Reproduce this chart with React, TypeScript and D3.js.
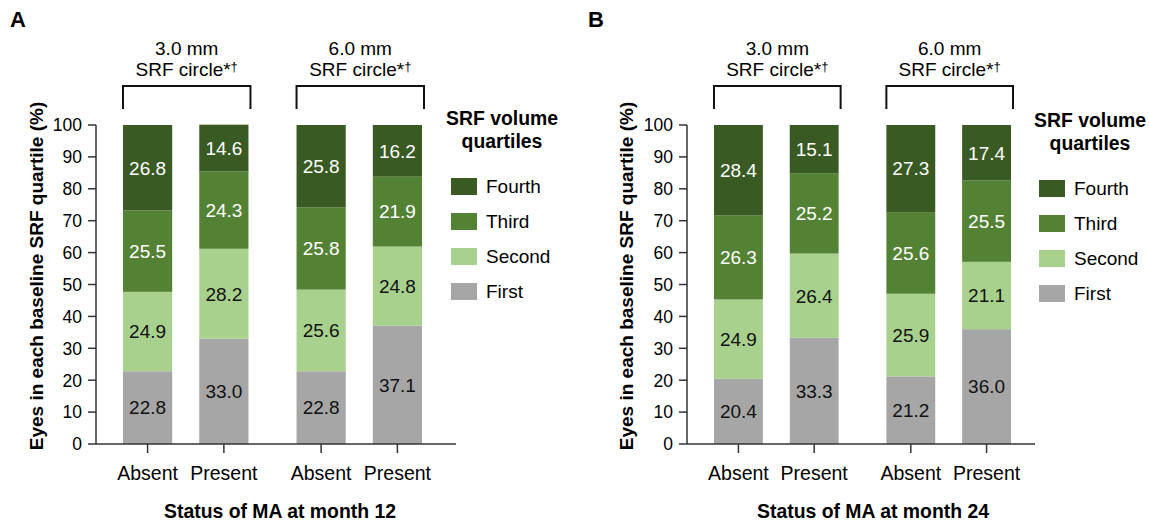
import React from "react";
import * as d3 from "d3";

// categories
const groups = ["3.0 mm", "6.0 mm"];
const statuses = ["Absent", "Present"];
const quartiles = ["First", "Second", "Third", "Fourth"];
const yTicks = [0, 10, 20, 30, 40, 50, 60, 70, 80, 90, 100];

// month 12: bars are 3.0 Absent, 3.0 Present, 6.0 Absent, 6.0 Present
const m12First = [22.8, 33.0, 22.8, 37.1];
const m12Second = [24.9, 28.2, 25.6, 24.8];
const m12Third = [25.5, 24.3, 25.8, 21.9];
const m12Fourth = [26.8, 14.6, 25.8, 16.2];

// month 24
const m24First = [20.4, 33.3, 21.2, 36.0];
const m24Second = [24.9, 26.4, 25.9, 21.1];
const m24Third = [26.3, 25.2, 25.6, 25.5];
const m24Fourth = [28.4, 15.1, 27.3, 17.4];

const colors: Record<string, string> = {
  First: "#a6a6a6",
  Second: "#a9d18e",
  Third: "#548235",
  Fourth: "#3a5a23",
};
const labelColor: Record<string, string> = {
  First: "#111",
  Second: "#111",
  Third: "#fff",
  Fourth: "#fff",
};

const FONT = "'Liberation Sans', Arial, Helvetica, sans-serif";

type PanelProps = {
  letter: string;
  letterX: number;
  axisX: number;
  axisEnd: number;
  barStart: number;
  barEnd: number;
  titleX: number;
  yTitleX: number;
  legendX: number;
  legendTitleX: number;
  legendTop: number;
  month: string;
  series: number[][];
};

const Panel: React.FC<PanelProps> = (p) => {
  const y = d3.scaleLinear().domain([0, 100]).range([444, 125]);
  const outer = d3.scaleBand<string>().domain(groups).range([p.barStart, p.barEnd]).paddingInner(0.277);
  const inner = d3.scaleBand<string>().domain(statuses).range([0, outer.bandwidth()]).paddingInner(0.355);

  const rows = groups.flatMap((g, gi) =>
    statuses.map((s, si) => {
      const i = gi * 2 + si;
      const row: any = { group: g, status: s };
      quartiles.forEach((q, qi) => (row[q] = p.series[qi][i]));
      return row;
    })
  );
  const stacked = d3.stack<any>().keys(quartiles)(rows);
  const bx = (r: any) => (outer(r.group) ?? 0) + (inner(r.status) ?? 0);

  return (
    <g>
      <text x={p.letterX} y={27} fontSize={22} fontWeight="bold">{p.letter}</text>

      {/* bars */}
      {stacked.map((layer) => (
        <g key={layer.key}>
          {layer.map((d, i) => {
            const r = rows[i];
            const x0 = bx(r);
            const top = y(d[1]);
            const h = y(d[0]) - y(d[1]);
            return (
              <g key={i}>
                <rect x={x0} y={top} width={inner.bandwidth()} height={h} fill={colors[layer.key]} />
                <text
                  x={x0 + inner.bandwidth() / 2}
                  y={top + h / 2}
                  dy="0.36em"
                  textAnchor="middle"
                  fontSize={19}
                  fill={labelColor[layer.key]}
                >
                  {(d[1] - d[0]).toFixed(1)}
                </text>
              </g>
            );
          })}
        </g>
      ))}

      {/* y axis */}
      <line x1={p.axisX} x2={p.axisX} y1={y(100)} y2={y(0)} stroke="#333" strokeWidth={1.5} />
      {yTicks.map((t) => (
        <g key={t}>
          <line x1={p.axisX - 8} x2={p.axisX} y1={y(t)} y2={y(t)} stroke="#333" strokeWidth={1.5} />
          <text x={p.axisX - 14} y={y(t)} dy="0.36em" textAnchor="end" fontSize={17.5}>{t}</text>
        </g>
      ))}
      <text
        transform={`translate(${p.yTitleX},276) rotate(-90)`}
        textAnchor="middle"
        fontSize={19}
        fontWeight="bold"
      >
        Eyes in each baseline SRF quartile (%)
      </text>

      {/* x axis */}
      <line x1={p.axisX} x2={p.axisEnd} y1={y(0)} y2={y(0)} stroke="#333" strokeWidth={1.5} />
      {rows.map((r, i) => {
        const cx = bx(r) + inner.bandwidth() / 2;
        return (
          <g key={i}>
            <line x1={cx} x2={cx} y1={y(0)} y2={y(0) + 9} stroke="#333" strokeWidth={1.5} />
            <text x={cx} y={480} textAnchor="middle" fontSize={19.5}>{r.status}</text>
          </g>
        );
      })}
      <text x={p.titleX} y={518} textAnchor="middle" fontSize={19.4} fontWeight="bold">
        Status of MA at month {p.month}
      </text>

      {/* brackets */}
      {groups.map((g) => {
        const x0 = outer(g) ?? 0;
        const x1 = x0 + outer.bandwidth() + 2;
        const cx = (x0 + x1) / 2;
        return (
          <g key={g}>
            <text x={cx} y={55} textAnchor="middle" fontSize={19}>{g}</text>
            <text x={cx} y={76} textAnchor="middle" fontSize={19}>
              SRF circle*<tspan fontSize={13} dy={-5}>†</tspan>
            </text>
            <path d={`M${x0},109V86H${x1}V109`} fill="none" stroke="#111" strokeWidth={2} />
          </g>
        );
      })}

      {/* legend */}
      <text x={p.legendTitleX} y={p.legendTop} textAnchor="middle" fontSize={19.4} fontWeight="bold">SRF volume</text>
      <text x={p.legendTitleX} y={p.legendTop + 23} textAnchor="middle" fontSize={19.4} fontWeight="bold">quartiles</text>
      {quartiles
        .slice()
        .reverse()
        .map((q, i) => {
          const sy = p.legendTop + 53 + i * 35;
          return (
            <g key={q}>
              <rect x={p.legendX} y={sy} width={26} height={17} fill={colors[q]} />
              <text x={p.legendX + 35} y={sy + 8.5} dy="0.36em" fontSize={19}>{q}</text>
            </g>
          );
        })}
    </g>
  );
};

export default function App() {
  return (
    <svg
      width={1149}
      height={521}
      style={{ position: "absolute", left: 0, top: 0, background: "#fff", fontFamily: FONT }}
    >
      <Panel
        letter="A"
        letterX={10}
        axisX={96}
        axisEnd={456}
        barStart={123}
        barEnd={422}
        titleX={280}
        yTitleX={43}
        legendX={451}
        legendTitleX={502}
        legendTop={125}
        month="12"
        series={[m12First, m12Second, m12Third, m12Fourth]}
      />
      <Panel
        letter="B"
        letterX={588}
        axisX={687}
        axisEnd={1035}
        barStart={714}
        barEnd={1011}
        titleX={873}
        yTitleX={633}
        legendX={1039}
        legendTitleX={1090}
        legendTop={127}
        month="24"
        series={[m24First, m24Second, m24Third, m24Fourth]}
      />
    </svg>
  );
}
